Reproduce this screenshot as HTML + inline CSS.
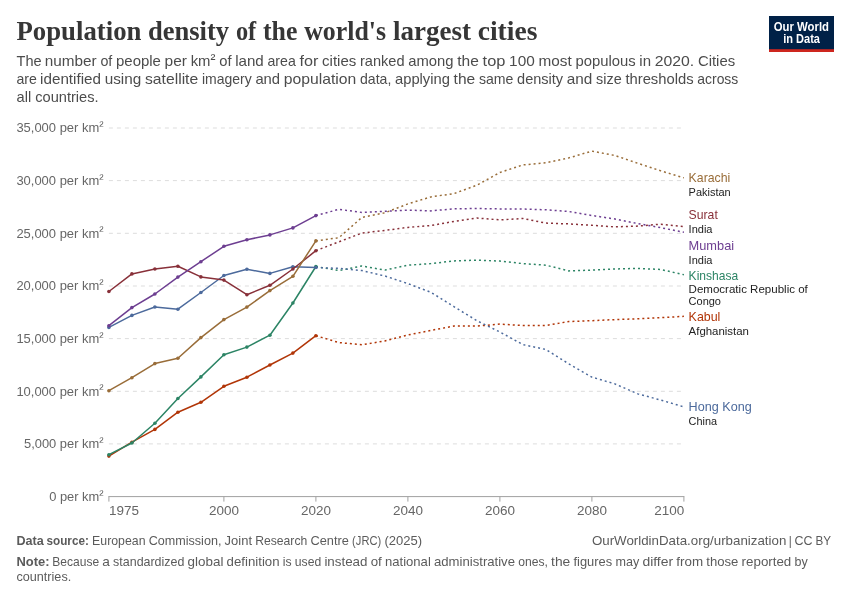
<!DOCTYPE html>
<html lang="en"><head><meta charset="utf-8"><title>Population density of the world's largest cities</title>
<style>
html,body{margin:0;padding:0;background:#fff;}
body{width:850px;height:600px;overflow:hidden;}
svg{display:block;}
text{font-family:"Liberation Sans",sans-serif;}
.title{font-family:"Liberation Serif",serif;font-weight:bold;fill:#363636;}
.sub{fill:#4c4c4c;}
.ax{fill:#666;}
.ft{fill:#5b5b5b;}
.ct{fill:#222;}
</style></head><body>
<svg width="850" height="600" viewBox="0 0 850 600">
<rect width="850" height="600" fill="#fff"/>

<text class="title" y="40.1" font-size="26.5"><tspan x="16.5" font-weight="bold" textLength="124.9" lengthAdjust="spacingAndGlyphs">Population</tspan> <tspan x="147.9" font-weight="bold" textLength="81.2" lengthAdjust="spacingAndGlyphs">density</tspan> <tspan x="235.9" font-weight="bold" textLength="20.3" lengthAdjust="spacingAndGlyphs">of</tspan> <tspan x="263.0" font-weight="bold" textLength="34.4" lengthAdjust="spacingAndGlyphs">the</tspan> <tspan x="304.2" font-weight="bold" textLength="81.9" lengthAdjust="spacingAndGlyphs">world's</tspan> <tspan x="392.9" font-weight="bold" textLength="78.0" lengthAdjust="spacingAndGlyphs">largest</tspan> <tspan x="477.7" font-weight="bold" textLength="59.7" lengthAdjust="spacingAndGlyphs">cities</tspan></text>
<text class="sub" y="66.4" font-size="14.8"><tspan x="16.5" textLength="25.1" lengthAdjust="spacingAndGlyphs">The</tspan> <tspan x="44.8" textLength="51.9" lengthAdjust="spacingAndGlyphs">number</tspan> <tspan x="100.4" textLength="11.9" lengthAdjust="spacingAndGlyphs">of</tspan> <tspan x="116.0" textLength="44.9" lengthAdjust="spacingAndGlyphs">people</tspan> <tspan x="164.6" textLength="22.4" lengthAdjust="spacingAndGlyphs">per</tspan> <tspan x="190.7" textLength="24.8" lengthAdjust="spacingAndGlyphs">km<tspan dy="-2.5">²</tspan></tspan> <tspan x="219.2" dy="2.5" textLength="12.3" lengthAdjust="spacingAndGlyphs">of</tspan> <tspan x="235.2" textLength="28.6" lengthAdjust="spacingAndGlyphs">land</tspan> <tspan x="267.5" textLength="28.3" lengthAdjust="spacingAndGlyphs">area</tspan> <tspan x="299.5" textLength="18.9" lengthAdjust="spacingAndGlyphs">for</tspan> <tspan x="322.1" textLength="34.2" lengthAdjust="spacingAndGlyphs">cities</tspan> <tspan x="360.0" textLength="44.6" lengthAdjust="spacingAndGlyphs">ranked</tspan> <tspan x="408.3" textLength="45.3" lengthAdjust="spacingAndGlyphs">among</tspan> <tspan x="457.3" textLength="21.6" lengthAdjust="spacingAndGlyphs">the</tspan> <tspan x="482.6" textLength="22.8" lengthAdjust="spacingAndGlyphs">top</tspan> <tspan x="509.1" textLength="25.7" lengthAdjust="spacingAndGlyphs">100</tspan> <tspan x="538.5" textLength="33.2" lengthAdjust="spacingAndGlyphs">most</tspan> <tspan x="575.4" textLength="60.2" lengthAdjust="spacingAndGlyphs">populous</tspan> <tspan x="639.3" textLength="11.7" lengthAdjust="spacingAndGlyphs">in</tspan> <tspan x="654.7" textLength="39.5" lengthAdjust="spacingAndGlyphs">2020.</tspan> <tspan x="697.9" textLength="37.2" lengthAdjust="spacingAndGlyphs">Cities</tspan></text>
<text class="sub" y="84.3" font-size="14.8"><tspan x="16.5" textLength="20.4" lengthAdjust="spacingAndGlyphs">are</tspan> <tspan x="40.1" textLength="60.9" lengthAdjust="spacingAndGlyphs">identified</tspan> <tspan x="104.7" textLength="36.6" lengthAdjust="spacingAndGlyphs">using</tspan> <tspan x="145.0" textLength="53.2" lengthAdjust="spacingAndGlyphs">satellite</tspan> <tspan x="201.9" textLength="49.8" lengthAdjust="spacingAndGlyphs">imagery</tspan> <tspan x="255.4" textLength="24.7" lengthAdjust="spacingAndGlyphs">and</tspan> <tspan x="283.8" textLength="72.5" lengthAdjust="spacingAndGlyphs">population</tspan> <tspan x="360.0" textLength="31.3" lengthAdjust="spacingAndGlyphs">data,</tspan> <tspan x="395.0" textLength="54.9" lengthAdjust="spacingAndGlyphs">applying</tspan> <tspan x="453.6" textLength="21.6" lengthAdjust="spacingAndGlyphs">the</tspan> <tspan x="478.9" textLength="34.5" lengthAdjust="spacingAndGlyphs">same</tspan> <tspan x="517.1" textLength="46.0" lengthAdjust="spacingAndGlyphs">density</tspan> <tspan x="566.8" textLength="25.6" lengthAdjust="spacingAndGlyphs">and</tspan> <tspan x="596.1" textLength="25.6" lengthAdjust="spacingAndGlyphs">size</tspan> <tspan x="625.4" textLength="68.2" lengthAdjust="spacingAndGlyphs">thresholds</tspan> <tspan x="697.3" textLength="41.0" lengthAdjust="spacingAndGlyphs">across</tspan></text>
<text class="sub" x="16.5" y="102.1" font-size="14.8" textLength="82.1" lengthAdjust="spacingAndGlyphs">all countries.</text>
<g><rect x="769" y="16" width="65" height="36" fill="#002147"/><rect x="769" y="49.2" width="65" height="2.8" fill="#ce261e"/>
<text x="801.4" y="30.6" font-size="12.8" font-weight="bold" fill="#fff" text-anchor="middle" textLength="55.2" lengthAdjust="spacingAndGlyphs">Our World</text>
<text x="801.6" y="42.8" font-size="12.8" font-weight="bold" fill="#fff" text-anchor="middle" textLength="36.8" lengthAdjust="spacingAndGlyphs">in Data</text></g>
<text class="ax" x="103.6" y="500.9" font-size="13.3" text-anchor="end" textLength="54.4" lengthAdjust="spacingAndGlyphs">0 per km<tspan dy="-2.2">²</tspan></text>
<text class="ax" x="103.6" y="448.2" font-size="13.3" text-anchor="end" textLength="79.6" lengthAdjust="spacingAndGlyphs">5,000 per km<tspan dy="-2.2">²</tspan></text>
<line x1="108.9" x2="683.9" y1="443.9" y2="443.9" stroke="#ddd" stroke-width="1" stroke-dasharray="4 4"/>
<text class="ax" x="103.6" y="395.6" font-size="13.3" text-anchor="end" textLength="87.2" lengthAdjust="spacingAndGlyphs">10,000 per km<tspan dy="-2.2">²</tspan></text>
<line x1="108.9" x2="683.9" y1="391.3" y2="391.3" stroke="#ddd" stroke-width="1" stroke-dasharray="4 4"/>
<text class="ax" x="103.6" y="342.9" font-size="13.3" text-anchor="end" textLength="87.2" lengthAdjust="spacingAndGlyphs">15,000 per km<tspan dy="-2.2">²</tspan></text>
<line x1="108.9" x2="683.9" y1="338.6" y2="338.6" stroke="#ddd" stroke-width="1" stroke-dasharray="4 4"/>
<text class="ax" x="103.6" y="290.3" font-size="13.3" text-anchor="end" textLength="87.2" lengthAdjust="spacingAndGlyphs">20,000 per km<tspan dy="-2.2">²</tspan></text>
<line x1="108.9" x2="683.9" y1="286.0" y2="286.0" stroke="#ddd" stroke-width="1" stroke-dasharray="4 4"/>
<text class="ax" x="103.6" y="237.6" font-size="13.3" text-anchor="end" textLength="87.2" lengthAdjust="spacingAndGlyphs">25,000 per km<tspan dy="-2.2">²</tspan></text>
<line x1="108.9" x2="683.9" y1="233.3" y2="233.3" stroke="#ddd" stroke-width="1" stroke-dasharray="4 4"/>
<text class="ax" x="103.6" y="184.9" font-size="13.3" text-anchor="end" textLength="87.2" lengthAdjust="spacingAndGlyphs">30,000 per km<tspan dy="-2.2">²</tspan></text>
<line x1="108.9" x2="683.9" y1="180.6" y2="180.6" stroke="#ddd" stroke-width="1" stroke-dasharray="4 4"/>
<text class="ax" x="103.6" y="132.3" font-size="13.3" text-anchor="end" textLength="87.2" lengthAdjust="spacingAndGlyphs">35,000 per km<tspan dy="-2.2">²</tspan></text>
<line x1="108.9" x2="683.9" y1="128.0" y2="128.0" stroke="#ddd" stroke-width="1" stroke-dasharray="4 4"/>
<line x1="108.4" x2="684.4" y1="496.6" y2="496.6" stroke="#a1a1a1" stroke-width="1"/>
<line x1="108.9" x2="108.9" y1="496.6" y2="501.6" stroke="#a1a1a1" stroke-width="1"/>
<text class="ax" x="108.9" y="514.6" font-size="13.4" textLength="30" lengthAdjust="spacingAndGlyphs">1975</text>
<line x1="223.9" x2="223.9" y1="496.6" y2="501.6" stroke="#a1a1a1" stroke-width="1"/>
<text class="ax" x="223.9" y="514.6" font-size="13.4" text-anchor="middle" textLength="30" lengthAdjust="spacingAndGlyphs">2000</text>
<line x1="315.9" x2="315.9" y1="496.6" y2="501.6" stroke="#a1a1a1" stroke-width="1"/>
<text class="ax" x="315.9" y="514.6" font-size="13.4" text-anchor="middle" textLength="30" lengthAdjust="spacingAndGlyphs">2020</text>
<line x1="407.9" x2="407.9" y1="496.6" y2="501.6" stroke="#a1a1a1" stroke-width="1"/>
<text class="ax" x="407.9" y="514.6" font-size="13.4" text-anchor="middle" textLength="30" lengthAdjust="spacingAndGlyphs">2040</text>
<line x1="499.9" x2="499.9" y1="496.6" y2="501.6" stroke="#a1a1a1" stroke-width="1"/>
<text class="ax" x="499.9" y="514.6" font-size="13.4" text-anchor="middle" textLength="30" lengthAdjust="spacingAndGlyphs">2060</text>
<line x1="591.9" x2="591.9" y1="496.6" y2="501.6" stroke="#a1a1a1" stroke-width="1"/>
<text class="ax" x="591.9" y="514.6" font-size="13.4" text-anchor="middle" textLength="30" lengthAdjust="spacingAndGlyphs">2080</text>
<line x1="683.9" x2="683.9" y1="496.6" y2="501.6" stroke="#a1a1a1" stroke-width="1"/>
<text class="ax" x="684.2" y="514.6" font-size="13.4" text-anchor="end" textLength="30" lengthAdjust="spacingAndGlyphs">2100</text>
<polyline points="315.9,335.7 338.9,342.6 361.9,344.7 384.9,341.0 407.9,335.0 430.9,330.4 453.9,326.1 476.9,326.1 499.9,324.1 522.9,325.5 545.9,325.5 568.9,321.5 591.9,320.7 614.9,319.6 637.9,318.8 660.9,317.7 683.9,316.3" fill="none" stroke="#b13507" stroke-width="1.5" stroke-dasharray="2 3" stroke-linejoin="round"/>
<polyline points="108.9,456.1 131.9,442.2 154.9,429.4 177.9,412.2 200.9,402.3 223.9,386.3 246.9,377.2 269.9,365.0 292.9,353.1 315.9,335.7" fill="none" stroke="#b13507" stroke-width="1.5" stroke-linejoin="round" stroke-linecap="round"/>
<circle cx="108.9" cy="456.1" r="1.8" fill="#b13507"/>
<circle cx="131.9" cy="442.2" r="1.8" fill="#b13507"/>
<circle cx="154.9" cy="429.4" r="1.8" fill="#b13507"/>
<circle cx="177.9" cy="412.2" r="1.8" fill="#b13507"/>
<circle cx="200.9" cy="402.3" r="1.8" fill="#b13507"/>
<circle cx="223.9" cy="386.3" r="1.8" fill="#b13507"/>
<circle cx="246.9" cy="377.2" r="1.8" fill="#b13507"/>
<circle cx="269.9" cy="365.0" r="1.8" fill="#b13507"/>
<circle cx="292.9" cy="353.1" r="1.8" fill="#b13507"/>
<circle cx="315.9" cy="335.7" r="1.8" fill="#b13507"/>
<polyline points="315.9,266.5 338.9,270.6 361.9,266.0 384.9,270.1 407.9,265.2 430.9,263.6 453.9,260.9 476.9,260.1 499.9,261.1 522.9,263.6 545.9,265.2 568.9,270.9 591.9,270.1 614.9,269.0 637.9,268.4 660.9,269.5 683.9,274.7" fill="none" stroke="#2c8465" stroke-width="1.5" stroke-dasharray="2 3" stroke-linejoin="round"/>
<polyline points="108.9,454.7 131.9,443.0 154.9,423.3 177.9,398.5 200.9,376.9 223.9,354.7 246.9,347.1 269.9,335.2 292.9,303.0 315.9,266.5" fill="none" stroke="#2c8465" stroke-width="1.5" stroke-linejoin="round" stroke-linecap="round"/>
<circle cx="108.9" cy="454.7" r="1.8" fill="#2c8465"/>
<circle cx="131.9" cy="443.0" r="1.8" fill="#2c8465"/>
<circle cx="154.9" cy="423.3" r="1.8" fill="#2c8465"/>
<circle cx="177.9" cy="398.5" r="1.8" fill="#2c8465"/>
<circle cx="200.9" cy="376.9" r="1.8" fill="#2c8465"/>
<circle cx="223.9" cy="354.7" r="1.8" fill="#2c8465"/>
<circle cx="246.9" cy="347.1" r="1.8" fill="#2c8465"/>
<circle cx="269.9" cy="335.2" r="1.8" fill="#2c8465"/>
<circle cx="292.9" cy="303.0" r="1.8" fill="#2c8465"/>
<circle cx="315.9" cy="266.5" r="1.8" fill="#2c8465"/>
<polyline points="315.9,267.5 338.9,268.4 361.9,270.6 384.9,276.0 407.9,283.6 430.9,292.3 453.9,306.6 476.9,320.7 499.9,332.0 522.9,344.6 545.9,349.5 568.9,363.9 591.9,377.1 614.9,383.9 637.9,393.9 660.9,400.1 683.9,406.9" fill="none" stroke="#4c6a9c" stroke-width="1.5" stroke-dasharray="2 3" stroke-linejoin="round"/>
<polyline points="108.9,327.4 131.9,315.4 154.9,307.0 177.9,309.2 200.9,292.5 223.9,275.5 246.9,269.3 269.9,273.4 292.9,266.7 315.9,267.5" fill="none" stroke="#4c6a9c" stroke-width="1.5" stroke-linejoin="round" stroke-linecap="round"/>
<circle cx="108.9" cy="327.4" r="1.8" fill="#4c6a9c"/>
<circle cx="131.9" cy="315.4" r="1.8" fill="#4c6a9c"/>
<circle cx="154.9" cy="307.0" r="1.8" fill="#4c6a9c"/>
<circle cx="177.9" cy="309.2" r="1.8" fill="#4c6a9c"/>
<circle cx="200.9" cy="292.5" r="1.8" fill="#4c6a9c"/>
<circle cx="223.9" cy="275.5" r="1.8" fill="#4c6a9c"/>
<circle cx="246.9" cy="269.3" r="1.8" fill="#4c6a9c"/>
<circle cx="269.9" cy="273.4" r="1.8" fill="#4c6a9c"/>
<circle cx="292.9" cy="266.7" r="1.8" fill="#4c6a9c"/>
<circle cx="315.9" cy="267.5" r="1.8" fill="#4c6a9c"/>
<polyline points="315.9,250.7 338.9,241.8 361.9,233.1 384.9,230.4 407.9,227.4 430.9,225.5 453.9,221.5 476.9,218.0 499.9,219.9 522.9,218.5 545.9,223.1 568.9,223.9 591.9,225.3 614.9,226.9 637.9,226.1 660.9,224.2 683.9,226.6" fill="none" stroke="#883039" stroke-width="1.5" stroke-dasharray="2 3" stroke-linejoin="round"/>
<polyline points="108.9,291.5 131.9,273.9 154.9,269.0 177.9,266.3 200.9,276.9 223.9,280.1 246.9,294.7 269.9,285.3 292.9,269.0 315.9,250.7" fill="none" stroke="#883039" stroke-width="1.5" stroke-linejoin="round" stroke-linecap="round"/>
<circle cx="108.9" cy="291.5" r="1.8" fill="#883039"/>
<circle cx="131.9" cy="273.9" r="1.8" fill="#883039"/>
<circle cx="154.9" cy="269.0" r="1.8" fill="#883039"/>
<circle cx="177.9" cy="266.3" r="1.8" fill="#883039"/>
<circle cx="200.9" cy="276.9" r="1.8" fill="#883039"/>
<circle cx="223.9" cy="280.1" r="1.8" fill="#883039"/>
<circle cx="246.9" cy="294.7" r="1.8" fill="#883039"/>
<circle cx="269.9" cy="285.3" r="1.8" fill="#883039"/>
<circle cx="292.9" cy="269.0" r="1.8" fill="#883039"/>
<circle cx="315.9" cy="250.7" r="1.8" fill="#883039"/>
<polyline points="315.9,240.9 338.9,237.7 361.9,217.4 384.9,212.8 407.9,203.9 430.9,196.9 453.9,193.6 476.9,185.2 499.9,172.5 522.9,164.9 545.9,162.8 568.9,157.9 591.9,151.1 614.9,155.5 637.9,163.3 660.9,170.9 683.9,177.9" fill="none" stroke="#996d39" stroke-width="1.5" stroke-dasharray="2 3" stroke-linejoin="round"/>
<polyline points="108.9,390.7 131.9,377.7 154.9,363.6 177.9,358.2 200.9,337.6 223.9,319.6 246.9,307.1 269.9,290.6 292.9,276.3 315.9,240.9" fill="none" stroke="#996d39" stroke-width="1.5" stroke-linejoin="round" stroke-linecap="round"/>
<circle cx="108.9" cy="390.7" r="1.8" fill="#996d39"/>
<circle cx="131.9" cy="377.7" r="1.8" fill="#996d39"/>
<circle cx="154.9" cy="363.6" r="1.8" fill="#996d39"/>
<circle cx="177.9" cy="358.2" r="1.8" fill="#996d39"/>
<circle cx="200.9" cy="337.6" r="1.8" fill="#996d39"/>
<circle cx="223.9" cy="319.6" r="1.8" fill="#996d39"/>
<circle cx="246.9" cy="307.1" r="1.8" fill="#996d39"/>
<circle cx="269.9" cy="290.6" r="1.8" fill="#996d39"/>
<circle cx="292.9" cy="276.3" r="1.8" fill="#996d39"/>
<circle cx="315.9" cy="240.9" r="1.8" fill="#996d39"/>
<polyline points="315.9,215.6 338.9,209.3 361.9,212.4 384.9,211.3 407.9,210.1 430.9,210.9 453.9,208.8 476.9,208.5 499.9,208.9 522.9,209.0 545.9,209.8 568.9,211.5 591.9,215.5 614.9,219.0 637.9,223.6 660.9,227.7 683.9,232.3" fill="none" stroke="#6d3e91" stroke-width="1.5" stroke-dasharray="2 3" stroke-linejoin="round"/>
<polyline points="108.9,325.7 131.9,307.6 154.9,294.0 177.9,277.1 200.9,261.7 223.9,246.3 246.9,239.8 269.9,234.9 292.9,227.9 315.9,215.6" fill="none" stroke="#6d3e91" stroke-width="1.5" stroke-linejoin="round" stroke-linecap="round"/>
<circle cx="108.9" cy="325.7" r="1.8" fill="#6d3e91"/>
<circle cx="131.9" cy="307.6" r="1.8" fill="#6d3e91"/>
<circle cx="154.9" cy="294.0" r="1.8" fill="#6d3e91"/>
<circle cx="177.9" cy="277.1" r="1.8" fill="#6d3e91"/>
<circle cx="200.9" cy="261.7" r="1.8" fill="#6d3e91"/>
<circle cx="223.9" cy="246.3" r="1.8" fill="#6d3e91"/>
<circle cx="246.9" cy="239.8" r="1.8" fill="#6d3e91"/>
<circle cx="269.9" cy="234.9" r="1.8" fill="#6d3e91"/>
<circle cx="292.9" cy="227.9" r="1.8" fill="#6d3e91"/>
<circle cx="315.9" cy="215.6" r="1.8" fill="#6d3e91"/>
<text x="688.6" y="182.0" font-size="12.6" fill="#996d39" textLength="41.7" lengthAdjust="spacingAndGlyphs">Karachi</text>
<text class="ct" x="688.6" y="196.0" font-size="11" textLength="42.1" lengthAdjust="spacingAndGlyphs">Pakistan</text>
<text x="688.6" y="218.9" font-size="12.6" fill="#883039" textLength="29.2" lengthAdjust="spacingAndGlyphs">Surat</text>
<text class="ct" x="688.6" y="232.6" font-size="11" textLength="23.9" lengthAdjust="spacingAndGlyphs">India</text>
<text x="688.6" y="249.8" font-size="12.6" fill="#6d3e91" textLength="45.5" lengthAdjust="spacingAndGlyphs">Mumbai</text>
<text class="ct" x="688.6" y="263.8" font-size="11" textLength="23.9" lengthAdjust="spacingAndGlyphs">India</text>
<text x="688.6" y="279.6" font-size="12.6" fill="#2c8465" textLength="49.6" lengthAdjust="spacingAndGlyphs">Kinshasa</text>
<text class="ct" x="688.6" y="293.2" font-size="11" textLength="119.2" lengthAdjust="spacingAndGlyphs">Democratic Republic of</text>
<text class="ct" x="688.6" y="304.9" font-size="11" textLength="32.4" lengthAdjust="spacingAndGlyphs">Congo</text>
<text x="688.6" y="321.0" font-size="12.6" fill="#b13507" textLength="31.8" lengthAdjust="spacingAndGlyphs">Kabul</text>
<text class="ct" x="688.6" y="335.0" font-size="11" textLength="60.4" lengthAdjust="spacingAndGlyphs">Afghanistan</text>
<text x="688.6" y="411.3" font-size="12.6" fill="#4c6a9c" textLength="63.1" lengthAdjust="spacingAndGlyphs">Hong Kong</text>
<text class="ct" x="688.6" y="425.1" font-size="11" textLength="28.4" lengthAdjust="spacingAndGlyphs">China</text>
<text class="ft" y="545.1" font-size="12.8"><tspan x="16.5" font-weight="bold" textLength="27.3" lengthAdjust="spacingAndGlyphs">Data</tspan> <tspan x="46.5" font-weight="bold" textLength="42.4" lengthAdjust="spacingAndGlyphs">source:</tspan> <tspan x="92.1" textLength="53.4" lengthAdjust="spacingAndGlyphs">European</tspan> <tspan x="148.7" textLength="72.7" lengthAdjust="spacingAndGlyphs">Commission,</tspan> <tspan x="224.6" textLength="27.4" lengthAdjust="spacingAndGlyphs">Joint</tspan> <tspan x="255.2" textLength="52.1" lengthAdjust="spacingAndGlyphs">Research</tspan> <tspan x="310.5" textLength="38.4" lengthAdjust="spacingAndGlyphs">Centre</tspan> <tspan x="352.1" textLength="29.1" lengthAdjust="spacingAndGlyphs">(JRC)</tspan> <tspan x="384.4" textLength="37.7" lengthAdjust="spacingAndGlyphs">(2025)</tspan></text>
<text class="ft" y="565.9" font-size="12.8"><tspan x="16.5" font-weight="bold" textLength="33.1" lengthAdjust="spacingAndGlyphs">Note:</tspan> <tspan x="52.3" textLength="46.8" lengthAdjust="spacingAndGlyphs">Because</tspan> <tspan x="102.3" textLength="7.6" lengthAdjust="spacingAndGlyphs">a</tspan> <tspan x="113.1" textLength="71.3" lengthAdjust="spacingAndGlyphs">standardized</tspan> <tspan x="187.6" textLength="35.8" lengthAdjust="spacingAndGlyphs">global</tspan> <tspan x="226.6" textLength="53.0" lengthAdjust="spacingAndGlyphs">definition</tspan> <tspan x="282.8" textLength="8.8" lengthAdjust="spacingAndGlyphs">is</tspan> <tspan x="294.8" textLength="26.4" lengthAdjust="spacingAndGlyphs">used</tspan> <tspan x="324.4" textLength="43.1" lengthAdjust="spacingAndGlyphs">instead</tspan> <tspan x="370.7" textLength="11.1" lengthAdjust="spacingAndGlyphs">of</tspan> <tspan x="385.0" textLength="45.8" lengthAdjust="spacingAndGlyphs">national</tspan> <tspan x="434.0" textLength="81.0" lengthAdjust="spacingAndGlyphs">administrative</tspan> <tspan x="518.2" textLength="29.7" lengthAdjust="spacingAndGlyphs">ones,</tspan> <tspan x="551.1" textLength="19.2" lengthAdjust="spacingAndGlyphs">the</tspan> <tspan x="573.5" textLength="38.7" lengthAdjust="spacingAndGlyphs">figures</tspan> <tspan x="615.4" textLength="23.8" lengthAdjust="spacingAndGlyphs">may</tspan> <tspan x="642.4" textLength="30.7" lengthAdjust="spacingAndGlyphs">differ</tspan> <tspan x="676.3" textLength="26.8" lengthAdjust="spacingAndGlyphs">from</tspan> <tspan x="706.3" textLength="32.1" lengthAdjust="spacingAndGlyphs">those</tspan> <tspan x="741.6" textLength="49.7" lengthAdjust="spacingAndGlyphs">reported</tspan> <tspan x="794.5" textLength="13.2" lengthAdjust="spacingAndGlyphs">by</tspan></text>
<text class="ft" y="545.1" font-size="12.8"><tspan x="591.9" textLength="194.4" lengthAdjust="spacingAndGlyphs">OurWorldinData.org/urbanization</tspan> <tspan x="788.7" textLength="3.0" lengthAdjust="spacingAndGlyphs">|</tspan> <tspan x="794.6" textLength="18.0" lengthAdjust="spacingAndGlyphs">CC</tspan> <tspan x="815.5" textLength="15.6" lengthAdjust="spacingAndGlyphs">BY</tspan></text>
<text class="ft" x="16.5" y="581.0" font-size="12.8" textLength="54.7" lengthAdjust="spacingAndGlyphs">countries.</text>
</svg></body></html>
